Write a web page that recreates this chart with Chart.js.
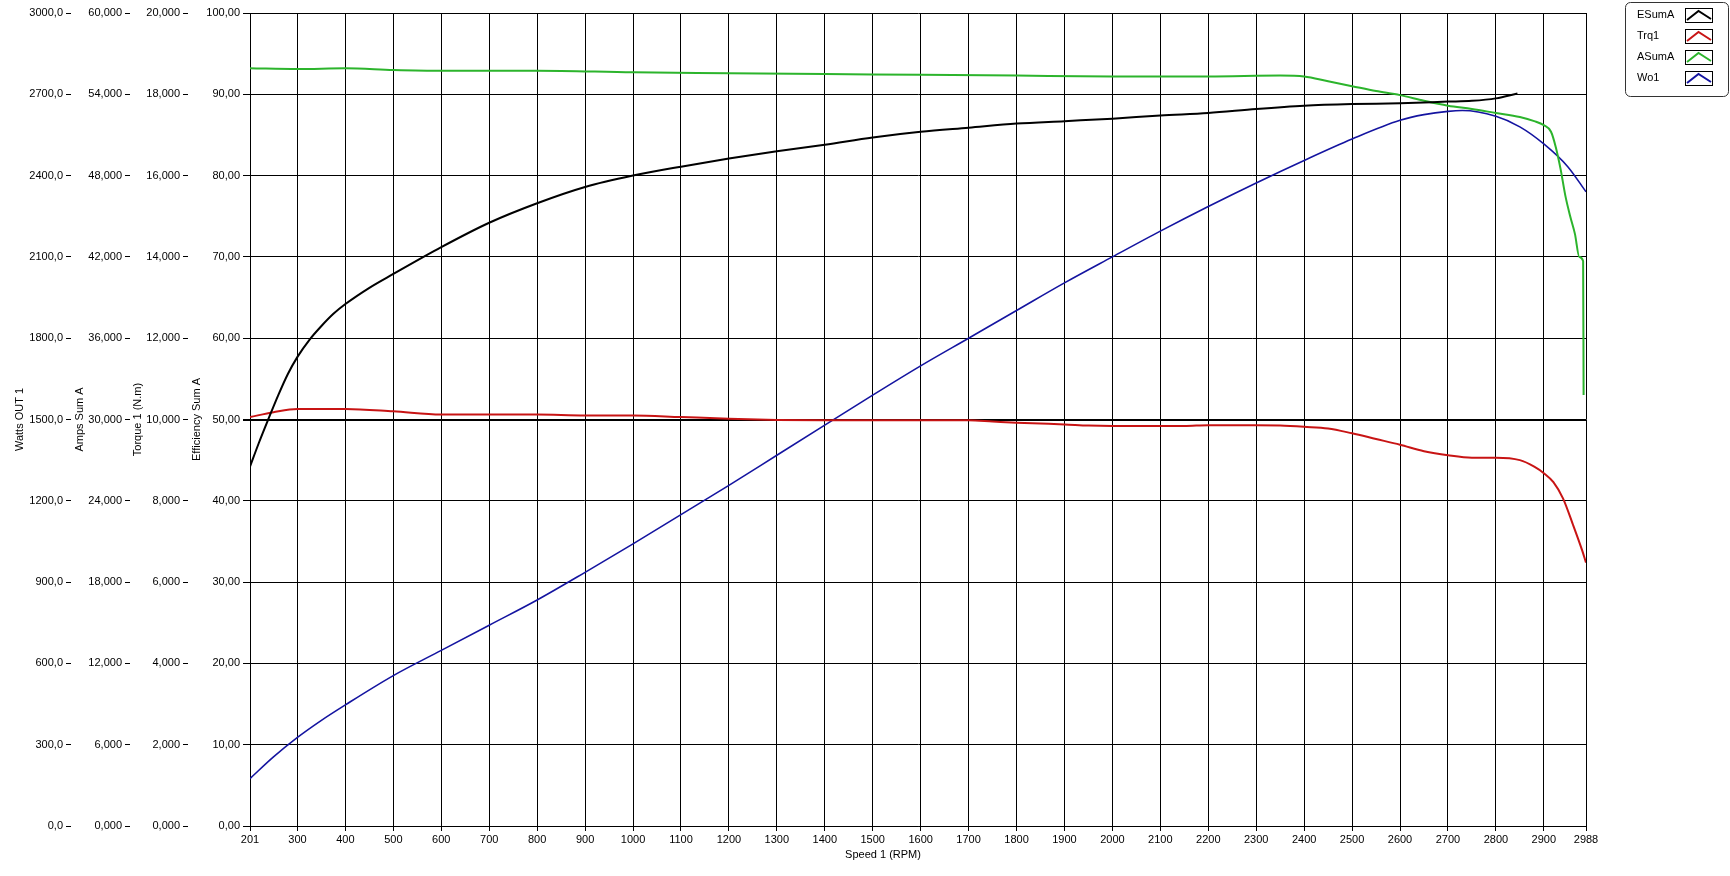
<!DOCTYPE html>
<html>
<head>
<meta charset="utf-8">
<script src="https://cdn.jsdelivr.net/npm/chart.js@4.4.1/dist/chart.umd.min.js"></script>
<style>
  html, body { margin: 0; padding: 0; background: #fff; }
  canvas { display: block; }
</style>
</head>
<body>
<canvas id="chart" width="1730" height="876"></canvas>
<script>
// x axis ticks (RPM)
const xTicks = [201, 300, 400, 500, 600, 700, 800, 900, 1000, 1100, 1200, 1300, 1400, 1500,
  1600, 1700, 1800, 1900, 2000, 2100, 2200, 2300, 2400, 2500, 2600, 2700, 2800, 2900, 2988];

// ESumA - efficiency (%)
const esumaRpm = [201, 220, 239, 260, 280, 300, 325, 350, 375, 400, 450, 500, 600, 700, 800, 900, 1000, 1100, 1200,
  1300, 1400, 1500, 1600, 1700, 1800, 1900, 2000, 2100, 2200, 2300, 2400, 2500, 2600, 2700, 2750, 2800, 2845];
const esumaEff = [44.2, 47.2, 50.0, 53.0, 55.6, 57.7, 59.8, 61.5, 63.0, 64.2, 66.2, 67.9, 71.2, 74.2, 76.6, 78.6, 80.0, 81.1, 82.1,
  83.0, 83.8, 84.7, 85.4, 85.9, 86.4, 86.7, 87.0, 87.4, 87.7, 88.2, 88.6, 88.8, 88.9, 89.1, 89.2, 89.5, 90.1];

// Trq1 - torque (N.m)
const trqRpm = [201, 250, 300, 400, 500, 600, 700, 800, 900, 1000, 1100, 1200, 1300, 1400, 1500, 1600,
  1700, 1750, 1800, 1850, 1900, 1950, 2000, 2100, 2150, 2200, 2300, 2350, 2400, 2450, 2500, 2550, 2600, 2650, 2700, 2750, 2800,
  2850, 2880, 2900, 2920, 2940, 2960, 2980, 2988];
const trqNm = [10.06, 10.18, 10.26, 10.26, 10.20, 10.12, 10.12, 10.12, 10.10, 10.10, 10.06, 10.02, 9.99, 9.98, 9.98, 9.98,
  9.98, 9.95, 9.92, 9.90, 9.88, 9.85, 9.84, 9.84, 9.84, 9.86, 9.86, 9.85, 9.82, 9.78, 9.66, 9.52, 9.38, 9.22, 9.12, 9.06, 9.06,
  9.00, 8.84, 8.68, 8.46, 8.06, 7.44, 6.78, 6.48];

// ASumA - current (A)
const asumaRpm = [201, 300, 400, 500, 600, 800, 1000, 1200, 1400, 1600, 1800, 2000, 2200, 2350, 2400,
  2450, 2500, 2550, 2600, 2650, 2700, 2750, 2800, 2850, 2880, 2900, 2915, 2925, 2935, 2945, 2955,
  2965, 2974, 2982, 2983];
const asumaAmps = [55.92, 55.86, 55.92, 55.80, 55.74, 55.74, 55.62, 55.56, 55.50, 55.44, 55.38, 55.32, 55.32, 55.38, 55.32,
  54.96, 54.60, 54.24, 53.94, 53.52, 53.16, 52.92, 52.62, 52.32, 52.02, 51.72, 51.24, 50.10, 48.48, 46.50, 45.00,
  43.68, 42.00, 41.70, 31.80];

// Wo1 - output power (W)
const wo1Rpm = [201, 250, 300, 350, 400, 500, 600, 700, 800, 900, 1000, 1100, 1200, 1300, 1400, 1500,
  1600, 1700, 1800, 1900, 2000, 2100, 2200, 2300, 2400, 2500, 2600, 2650, 2700, 2730, 2800, 2850, 2900, 2950, 2988];
const wo1Watts = [175, 255, 327, 390, 447, 555, 648, 741, 834, 936, 1041, 1149, 1257, 1368, 1479, 1590,
  1698, 1800, 1902, 2004, 2100, 2195, 2286, 2373, 2456, 2535, 2604, 2625, 2637, 2640, 2619, 2580, 2517, 2433, 2340];

const FONT = "'Liberation Sans', Arial, sans-serif";
Chart.defaults.font.family = FONT;
Chart.defaults.font.size = 11;
Chart.defaults.color = '#000';

function commaFmt(v, d) {
  return Number(v).toFixed(d).replace('.', ',');
}

function pairs(xs, ys) {
  return xs.map((x, i) => ({ x: x, y: ys[i] }));
}

function sideAxis(min, max, step, decimals, title, width, titlePad, onArea) {
  return {
    type: 'linear',
    position: 'left',
    min: min, max: max,
    ticks: { stepSize: step, padding: 3, callback: v => commaFmt(v, decimals) },
    grid: {
      color: '#000',
      drawOnChartArea: onArea,
      tickLength: onArea ? 7 : 5,
      lineWidth: ctx => (onArea && ctx.tick && ctx.tick.value === 50) ? 2 : 1
    },
    border: { display: onArea, color: '#000', width: 1 },
    title: { display: true, text: title, padding: { top: titlePad, bottom: 0 }, font: { size: 11 } },
    afterFit: s => { s.width = width; }
  };
}

const boxLegend = {
  id: 'boxLegend',
  afterDraw(chart) {
    const ctx = chart.ctx;
    ctx.save();
    ctx.beginPath();
    ctx.roundRect(1625.5, 2.5, 103, 94, 5);
    ctx.fillStyle = '#fff';
    ctx.fill();
    ctx.strokeStyle = '#333';
    ctx.lineWidth = 1;
    ctx.stroke();
    ctx.font = '11px ' + FONT;
    ctx.textBaseline = 'middle';
    chart.data.datasets.forEach((ds, i) => {
      const y = 15 + i * 21;
      ctx.fillStyle = '#000';
      ctx.fillText(ds.label, 1637, y);
      ctx.strokeStyle = '#000';
      ctx.lineWidth = 1;
      ctx.strokeRect(1685.5, y - 6.5, 27, 14);
      ctx.beginPath();
      ctx.moveTo(1687, y + 5);
      ctx.lineTo(1698.5, y - 4);
      ctx.lineTo(1711, y + 4);
      ctx.strokeStyle = ds.borderColor;
      ctx.lineWidth = 2;
      ctx.stroke();
    });
    // x axis title
    ctx.fillStyle = '#000';
    ctx.textAlign = 'center';
    ctx.fillText('Speed 1 (RPM)', 883, 855);
    ctx.restore();
  }
};

const line = { pointRadius: 0, fill: false, cubicInterpolationMode: 'monotone' };

new Chart(document.getElementById('chart'), {
  type: 'line',
  data: {
    datasets: [
      Object.assign({ label: 'ESumA', data: pairs(esumaRpm, esumaEff), yAxisID: 'yEff', borderColor: '#000000', borderWidth: 2 }, line),
      Object.assign({ label: 'Trq1', data: pairs(trqRpm, trqNm), yAxisID: 'yTrq', borderColor: '#c81414', borderWidth: 2 }, line),
      Object.assign({ label: 'ASumA', data: pairs(asumaRpm, asumaAmps), yAxisID: 'yAmp', borderColor: '#2cb42c', borderWidth: 2 }, line),
      Object.assign({ label: 'Wo1', data: pairs(wo1Rpm, wo1Watts), yAxisID: 'yW', borderColor: '#1414a0', borderWidth: 1.6 }, line)
    ]
  },
  options: {
    responsive: false,
    animation: false,
    layout: { padding: { top: 13, right: 144, bottom: 0, left: 0 } },
    plugins: { legend: { display: false }, tooltip: { enabled: false } },
    scales: {
      x: {
        type: 'linear',
        min: 201, max: 2988,
        afterBuildTicks: s => { s.ticks = xTicks.map(v => ({ value: v })); },
        ticks: { autoSkip: false, maxRotation: 0, padding: 2, callback: v => String(v) },
        grid: { color: '#000', lineWidth: 1, tickLength: 5 },
        border: { display: true, color: '#000', width: 1 },
        afterFit: s => { s.height = 50; }
      },
      yEff: sideAxis(0, 100, 10, 2, 'Efficiency Sum A', 62, 2.4, true),
      yTrq: sideAxis(0, 20, 2, 3, 'Torque 1 (N.m)', 58, 1.4, false),
      yAmp: sideAxis(0, 60, 6, 3, 'Amps Sum A', 59, 2.4, false),
      yW: sideAxis(0, 3000, 300, 1, 'Watts OUT 1', 71, 13.4, false)
    }
  },
  plugins: [boxLegend]
});
</script>
</body>
</html>
